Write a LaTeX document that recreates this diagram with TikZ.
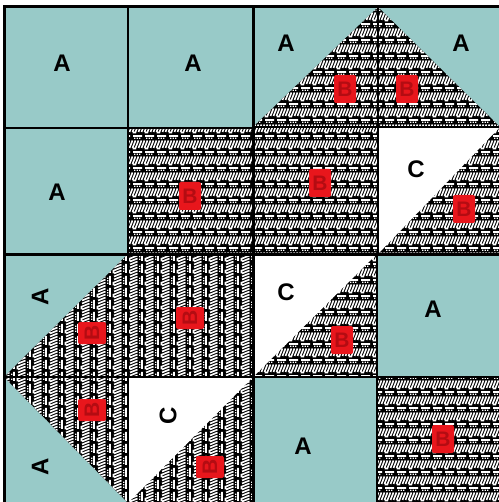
\documentclass[tikz,border=0pt]{standalone}
\usepackage{fontspec}
\setmainfont{Liberation Sans}
\usetikzlibrary{patterns}
\definecolor{tealA}{RGB}{152,202,200}
\definecolor{redB}{RGB}{232,22,28}
\definecolor{redBtxt}{RGB}{180,12,18}
\pgfdeclarepatternformonly{qtexH}{\pgfqpoint{-3pt}{-3pt}}{\pgfqpoint{27pt}{19pt}}{\pgfqpoint{24pt}{16pt}}{%
  \pgfsetlinewidth{1.6pt}%
  \pgfpathmoveto{\pgfqpoint{1pt}{14pt}}\pgfpathlineto{\pgfqpoint{10pt}{14pt}}%
  \pgfpathmoveto{\pgfqpoint{13pt}{14pt}}\pgfpathlineto{\pgfqpoint{22pt}{14pt}}%
  \foreach \x in {0.5,3.5,6.5,9.5,12.5,15.5,18.5,21.5}{%
    \pgfpathmoveto{\pgfpoint{\x pt}{2pt}}\pgfpathlineto{\pgfpoint{\x pt+3pt}{9.5pt}}}%
  \pgfpathmoveto{\pgfqpoint{0.5pt}{1.5pt}}\pgfpathlineto{\pgfqpoint{4pt}{1.5pt}}%
  \pgfpathmoveto{\pgfqpoint{12.5pt}{1.5pt}}\pgfpathlineto{\pgfqpoint{16pt}{1.5pt}}%
  \pgfusepath{stroke}%
  \foreach \x in {2,4.5,7,14,16.5,19}{\pgfpathrectangle{\pgfpoint{\x pt}{11pt}}{\pgfqpoint{1.3pt}{1.3pt}}}%
  \pgfusepath{fill}%
}
\pgfdeclarepatternformonly{qtexV}{\pgfqpoint{-3pt}{-3pt}}{\pgfqpoint{19pt}{27pt}}{\pgfqpoint{16pt}{24pt}}{%
  \pgfsetlinewidth{1.6pt}%
  \pgfpathmoveto{\pgfqpoint{14pt}{1pt}}\pgfpathlineto{\pgfqpoint{14pt}{10pt}}%
  \pgfpathmoveto{\pgfqpoint{14pt}{13pt}}\pgfpathlineto{\pgfqpoint{14pt}{22pt}}%
  \foreach \y in {0.5,3.5,6.5,9.5,12.5,15.5,18.5,21.5}{%
    \pgfpathmoveto{\pgfpoint{2pt}{\y pt}}\pgfpathlineto{\pgfpoint{9.5pt}{\y pt+3pt}}}%
  \pgfpathmoveto{\pgfqpoint{1.5pt}{0.5pt}}\pgfpathlineto{\pgfqpoint{1.5pt}{4pt}}%
  \pgfpathmoveto{\pgfqpoint{1.5pt}{12.5pt}}\pgfpathlineto{\pgfqpoint{1.5pt}{16pt}}%
  \pgfusepath{stroke}%
  \foreach \y in {2,4.5,7,14,16.5,19}{\pgfpathrectangle{\pgfpoint{11pt}{\y pt}}{\pgfqpoint{1.3pt}{1.3pt}}}%
  \pgfusepath{fill}%
}
\tikzset{
  tA/.style={fill=tealA},
  tC/.style={fill=white},
  bH/.style={fill=black, postaction={pattern=qtexH, pattern color=white}},
  bV/.style={fill=black, postaction={pattern=qtexV, pattern color=white}},
  thinline/.style={line width=1.5pt, black},
  thickline/.style={line width=3pt, black},
  letter/.style={font=\fontsize{24}{24}\selectfont\bfseries, text=black, inner sep=0pt},
  redbox/.style={fill=redB, text=redBtxt, font=\fontsize{21}{21}\selectfont\bfseries,
    minimum width=22pt, minimum height=28pt, inner sep=0pt, rounded corners=2pt},
}
\begin{document}
\begin{tikzpicture}[x=1pt,y=-1pt]
\useasboundingbox (0,0) rectangle (498,502);
\fill[white] (0,0) rectangle (498,502);
% ---------- top-left quadrant ----------
\path[tA] (4,7) rectangle (128,128);
\path[tA] (128,7) rectangle (253,128);
\path[tA] (4,128) rectangle (128,254);
\path[bH] (128,128) rectangle (253,254);
% ---------- top-right quadrant ----------
\path[tA] (253,7) rectangle (500,127);
\path[bH] (378,7) -- (378,127) -- (253,127) -- cycle;
\path[bH] (378,7) -- (500,127) -- (378,127) -- cycle;
\path[bH] (253,127) rectangle (378,254);
\path[bH] (378,127) rectangle (500,254);
\path[tC] (378,127) -- (500,127) -- (378,254) -- cycle;
% ---------- bottom-left quadrant ----------
\path[tA] (4,254) rectangle (128,503);
\path[bV] (128,254) -- (128,377) -- (4,377) -- cycle;
\path[bV] (4,377) -- (128,377) -- (128,503) -- cycle;
\path[bV] (128,254) rectangle (253,377);
\path[bV] (128,377) rectangle (253,503);
\path[tC] (128,377) -- (253,377) -- (128,503) -- cycle;
% ---------- bottom-right quadrant ----------
\path[bH] (253,254) rectangle (377,377);
\path[tC] (253,254) -- (377,254) -- (253,377) -- cycle;
\path[tA] (377,254) rectangle (500,377);
\path[tA] (253,377) rectangle (377,503);
\path[bH] (377,377) rectangle (500,503);
% ---------- grid lines ----------
\draw[thinline] (4,128) -- (253,128);
\draw[thinline] (128,7) -- (128,254);
\draw[thinline] (253,127) -- (500,127);
\draw[thinline] (378,7) -- (378,254);
\draw[thinline] (4,377) -- (500,377);
\draw[thinline] (128,254) -- (128,503);
\draw[thinline] (377,254) -- (377,503);
\draw[thickline] (4,254) -- (500,254);
\draw[thickline] (253,7) -- (253,503);
\draw[thickline] (4,503) -- (4,7) -- (500,7);
% ---------- labels top-left ----------
\node[letter] (a1) at (62,63) {A};
\node[letter] (a2) at (193,63) {A};
\node[letter] (a3) at (57,192) {A};
\node[redbox] (b1) at (190,196) {B};
% ---------- labels top-right ----------
\node[letter] (a4) at (286,43) {A};
\node[letter] (a5) at (461,43) {A};
\node[redbox] (b2) at (345,89) {B};
\node[redbox] (b3) at (407,89) {B};
\node[redbox] (b4) at (320,183) {B};
\node[letter] (c1) at (416,169) {C};
\node[redbox] (b5) at (464,209) {B};
% ---------- labels bottom-left ----------
\node[letter, rotate=90] (a6) at (40,297) {A};
\node[letter, rotate=90] (a7) at (40,467) {A};
\node[redbox, rotate=90] (b6) at (92,333) {B};
\node[redbox, rotate=90] (b7) at (190,318) {B};
\node[redbox, rotate=90] (b8) at (92,410) {B};
\node[letter, rotate=90] (c2) at (168,416) {C};
\node[redbox, rotate=90] (b9) at (210,467) {B};
% ---------- labels bottom-right ----------
\node[letter] (c3) at (286,292) {C};
\node[redbox] (b10) at (342,340) {B};
\node[letter] (a8) at (433,309) {A};
\node[letter] (a9) at (303,446) {A};
\node[redbox] (b11) at (443,439) {B};
\end{tikzpicture}
\end{document}
